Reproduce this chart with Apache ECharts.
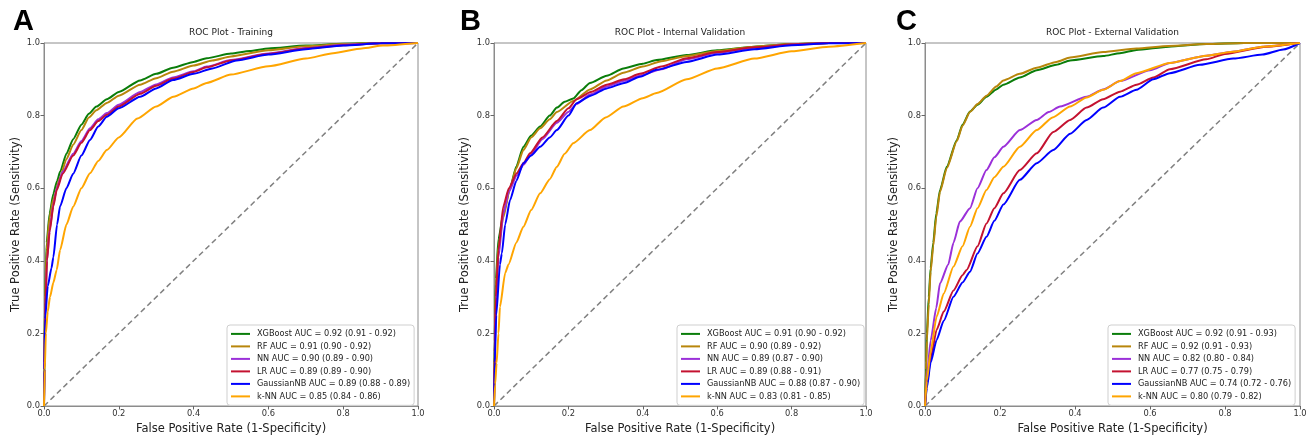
<!DOCTYPE html>
<html>
<head>
<meta charset="utf-8">
<script src="https://cdn.jsdelivr.net/npm/echarts@6/dist/echarts.min.js"></script>
<style>html,body{margin:0;padding:0;background:#fff;}#c{width:1314px;height:440px;}</style>
</head>
<body>
<div id="c"></div>
<script>
// ---- tick labels ----
const TICKS = [0.0, 0.2, 0.4, 0.6, 0.8, 1.0];

// ---- panel titles / letters ----
const PANEL_LETTERS = ['A', 'B', 'C'];
const PANEL_TITLES = ['ROC Plot - Training', 'ROC Plot - Internal Validation', 'ROC Plot - External Validation'];

// ---- model names ----
const MODELS = ['XGBoost', 'RF', 'NN', 'LR', 'GaussianNB', 'k-NN'];

// ---- AUC legend text per panel ----
const AUC_A = ['0.92 (0.91 - 0.92)', '0.91 (0.90 - 0.92)', '0.90 (0.89 - 0.90)', '0.89 (0.89 - 0.90)', '0.89 (0.88 - 0.89)', '0.85 (0.84 - 0.86)'];
const AUC_B = ['0.91 (0.90 - 0.92)', '0.90 (0.89 - 0.92)', '0.89 (0.87 - 0.90)', '0.89 (0.88 - 0.91)', '0.88 (0.87 - 0.90)', '0.83 (0.81 - 0.85)'];
const AUC_C = ['0.92 (0.91 - 0.93)', '0.92 (0.91 - 0.93)', '0.82 (0.80 - 0.84)', '0.77 (0.75 - 0.79)', '0.74 (0.72 - 0.76)', '0.80 (0.79 - 0.82)'];

// ---- ROC curves, [FPR, TPR] ----
// Panel A : Training
const XGB_A = [[0,0],[0.001,0.12],[0.003,0.3],[0.007,0.45],[0.015,0.53],[0.025,0.585],[0.035,0.62],[0.043,0.645],[0.06,0.695],[0.078,0.735],[0.1,0.775],[0.12,0.805],[0.14,0.825],[0.168,0.845],[0.2,0.865],[0.257,0.897],[0.3,0.915],[0.345,0.932],[0.4,0.948],[0.435,0.958],[0.5,0.971],[0.55,0.978],[0.6,0.985],[0.7,0.993],[0.8,0.998],[0.9,1],[1,1]];
const RF_A = [[0,0],[0.001,0.12],[0.003,0.28],[0.007,0.43],[0.015,0.52],[0.025,0.57],[0.043,0.63],[0.06,0.68],[0.078,0.72],[0.1,0.76],[0.12,0.795],[0.14,0.815],[0.168,0.835],[0.2,0.855],[0.257,0.885],[0.3,0.903],[0.345,0.921],[0.4,0.938],[0.45,0.952],[0.5,0.963],[0.6,0.98],[0.7,0.991],[0.8,0.997],[0.9,1],[1,1]];
const NN_A = [[0,0],[0.001,0.1],[0.003,0.25],[0.008,0.4],[0.015,0.485],[0.025,0.555],[0.034,0.6],[0.05,0.645],[0.078,0.695],[0.1,0.73],[0.123,0.765],[0.145,0.79],[0.168,0.807],[0.2,0.83],[0.257,0.865],[0.3,0.886],[0.345,0.905],[0.4,0.922],[0.435,0.935],[0.5,0.953],[0.6,0.971],[0.7,0.986],[0.8,0.995],[0.9,0.999],[1,1]];
const LR_A = [[0,0],[0.001,0.1],[0.003,0.25],[0.008,0.4],[0.015,0.48],[0.025,0.55],[0.034,0.595],[0.05,0.64],[0.078,0.69],[0.1,0.725],[0.123,0.76],[0.145,0.785],[0.168,0.802],[0.2,0.825],[0.257,0.86],[0.3,0.882],[0.345,0.902],[0.4,0.92],[0.435,0.933],[0.5,0.952],[0.6,0.97],[0.7,0.985],[0.8,0.994],[0.9,0.999],[1,1]];
const GNB_A = [[0,0],[0.001,0.1],[0.003,0.24],[0.01,0.33],[0.02,0.38],[0.025,0.41],[0.035,0.5],[0.043,0.55],[0.06,0.6],[0.078,0.64],[0.1,0.69],[0.123,0.733],[0.145,0.77],[0.168,0.797],[0.2,0.82],[0.257,0.852],[0.3,0.875],[0.345,0.898],[0.4,0.915],[0.45,0.93],[0.515,0.952],[0.6,0.968],[0.7,0.983],[0.8,0.993],[0.9,0.999],[1,1]];
const KNN_A = [[0,0],[0.002,0.1],[0.005,0.2],[0.01,0.26],[0.016,0.3],[0.025,0.34],[0.034,0.375],[0.043,0.43],[0.06,0.5],[0.078,0.549],[0.1,0.6],[0.123,0.641],[0.145,0.675],[0.168,0.705],[0.2,0.74],[0.25,0.792],[0.3,0.825],[0.346,0.852],[0.4,0.875],[0.435,0.89],[0.5,0.913],[0.6,0.936],[0.7,0.957],[0.773,0.972],[0.85,0.985],[0.906,0.993],[1,1]];

// Panel B : Internal Validation
const XGB_B = [[0,0],[0.002,0.2],[0.005,0.35],[0.012,0.46],[0.025,0.53],[0.043,0.6],[0.06,0.66],[0.079,0.714],[0.1,0.745],[0.124,0.77],[0.15,0.8],[0.169,0.822],[0.19,0.838],[0.213,0.847],[0.235,0.87],[0.258,0.89],[0.303,0.91],[0.348,0.93],[0.4,0.943],[0.437,0.953],[0.518,0.967],[0.6,0.98],[0.7,0.99],[0.8,0.997],[0.9,1],[1,1]];
const RF_B = [[0,0],[0.002,0.18],[0.005,0.33],[0.012,0.44],[0.025,0.52],[0.043,0.6],[0.06,0.655],[0.079,0.705],[0.1,0.74],[0.124,0.765],[0.15,0.79],[0.169,0.81],[0.213,0.84],[0.258,0.872],[0.303,0.897],[0.348,0.918],[0.4,0.935],[0.45,0.95],[0.518,0.964],[0.6,0.978],[0.7,0.99],[0.8,0.997],[0.9,1],[1,1]];
const NN_B = [[0,0],[0.002,0.14],[0.005,0.28],[0.012,0.41],[0.025,0.53],[0.04,0.59],[0.061,0.635],[0.08,0.665],[0.097,0.69],[0.13,0.735],[0.169,0.78],[0.2,0.81],[0.222,0.832],[0.258,0.858],[0.303,0.88],[0.35,0.896],[0.392,0.91],[0.45,0.928],[0.518,0.955],[0.6,0.973],[0.7,0.987],[0.8,0.996],[0.9,1],[1,1]];
const LR_B = [[0,0],[0.002,0.15],[0.005,0.3],[0.012,0.43],[0.025,0.55],[0.04,0.6],[0.061,0.641],[0.08,0.67],[0.097,0.696],[0.13,0.74],[0.169,0.785],[0.2,0.82],[0.222,0.845],[0.26,0.865],[0.303,0.885],[0.35,0.9],[0.392,0.915],[0.45,0.935],[0.518,0.958],[0.6,0.975],[0.7,0.988],[0.8,0.996],[0.9,1],[1,1]];
const GNB_B = [[0,0],[0.002,0.12],[0.006,0.25],[0.016,0.39],[0.021,0.42],[0.03,0.5],[0.043,0.567],[0.06,0.62],[0.079,0.669],[0.1,0.69],[0.124,0.714],[0.15,0.74],[0.169,0.76],[0.2,0.8],[0.222,0.834],[0.26,0.855],[0.303,0.875],[0.35,0.89],[0.392,0.907],[0.437,0.926],[0.518,0.948],[0.6,0.968],[0.7,0.983],[0.8,0.994],[0.9,0.999],[1,1]];
const KNN_B = [[0,0],[0.003,0.06],[0.007,0.118],[0.012,0.2],[0.016,0.273],[0.03,0.366],[0.039,0.39],[0.06,0.45],[0.079,0.494],[0.1,0.54],[0.124,0.586],[0.15,0.625],[0.169,0.659],[0.19,0.695],[0.213,0.724],[0.258,0.76],[0.3,0.795],[0.348,0.825],[0.4,0.848],[0.437,0.862],[0.518,0.9],[0.6,0.93],[0.7,0.957],[0.8,0.977],[0.9,0.99],[1,1]];

// Panel C : External Validation
const XGB_C = [[0,0],[0.003,0.12],[0.005,0.2],[0.01,0.3],[0.015,0.38],[0.022,0.45],[0.03,0.53],[0.04,0.595],[0.058,0.659],[0.085,0.733],[0.1,0.775],[0.12,0.811],[0.14,0.83],[0.164,0.852],[0.19,0.872],[0.209,0.885],[0.253,0.905],[0.298,0.925],[0.35,0.94],[0.387,0.952],[0.475,0.964],[0.52,0.972],[0.564,0.981],[0.65,0.99],[0.75,0.997],[0.85,1],[1,1]];
const RF_C = [[0,0],[0.003,0.1],[0.005,0.18],[0.01,0.28],[0.015,0.37],[0.022,0.44],[0.03,0.52],[0.04,0.59],[0.058,0.655],[0.085,0.73],[0.1,0.772],[0.12,0.81],[0.14,0.832],[0.164,0.855],[0.19,0.88],[0.209,0.897],[0.253,0.915],[0.298,0.932],[0.35,0.948],[0.387,0.96],[0.475,0.975],[0.564,0.985],[0.65,0.992],[0.75,0.997],[0.85,1],[1,1]];
const NN_C = [[0,0],[0.005,0.08],[0.015,0.18],[0.03,0.27],[0.04,0.338],[0.062,0.39],[0.076,0.45],[0.093,0.508],[0.12,0.545],[0.14,0.6],[0.164,0.65],[0.185,0.685],[0.209,0.714],[0.253,0.76],[0.298,0.788],[0.33,0.81],[0.36,0.825],[0.431,0.852],[0.475,0.872],[0.52,0.895],[0.6,0.925],[0.653,0.945],[0.75,0.965],[0.82,0.976],[0.9,0.99],[1,1]];
const LR_C = [[0,0],[0.005,0.06],[0.015,0.13],[0.031,0.21],[0.05,0.26],[0.076,0.318],[0.1,0.36],[0.111,0.375],[0.14,0.44],[0.164,0.503],[0.185,0.545],[0.209,0.586],[0.253,0.65],[0.298,0.696],[0.342,0.755],[0.387,0.788],[0.431,0.822],[0.475,0.845],[0.52,0.866],[0.564,0.885],[0.609,0.905],[0.653,0.928],[0.75,0.955],[0.8,0.97],[0.91,0.99],[1,1]];
const GNB_C = [[0,0],[0.005,0.05],[0.015,0.12],[0.031,0.182],[0.05,0.235],[0.076,0.301],[0.1,0.34],[0.12,0.37],[0.14,0.42],[0.164,0.466],[0.185,0.51],[0.209,0.555],[0.253,0.623],[0.298,0.669],[0.342,0.705],[0.387,0.75],[0.431,0.788],[0.475,0.822],[0.52,0.852],[0.564,0.871],[0.609,0.9],[0.653,0.917],[0.733,0.94],[0.822,0.957],[0.9,0.968],[0.955,0.982],[1,1]];
const KNN_C = [[0,0],[0.005,0.07],[0.015,0.15],[0.031,0.246],[0.05,0.31],[0.076,0.384],[0.1,0.44],[0.12,0.494],[0.14,0.545],[0.164,0.595],[0.185,0.63],[0.209,0.659],[0.253,0.714],[0.298,0.76],[0.34,0.795],[0.387,0.825],[0.431,0.85],[0.475,0.871],[0.52,0.895],[0.564,0.917],[0.653,0.945],[0.75,0.965],[0.82,0.976],[0.9,0.99],[1,1]];

const DIAG = [[0,0],[1,1]];

const CURVES = [
  [XGB_A, RF_A, NN_A, LR_A, GNB_A, KNN_A],
  [XGB_B, RF_B, NN_B, LR_B, GNB_B, KNN_B],
  [XGB_C, RF_C, NN_C, LR_C, GNB_C, KNN_C]
];
const AUCS = [AUC_A, AUC_B, AUC_C];

// ---- styling / layout ----
const COLORS = ['#0a7d0a', '#b8860b', '#9b30d9', '#c41230', '#0000ff', '#ffa500'];
const GRIDS = [
  {left: 44, width: 374, top: 43, height: 363, yGap: 22, legendLeft: 227},
  {left: 494, width: 372, top: 43, height: 363, yGap: 23, legendLeft: 677},
  {left: 925, width: 375, top: 43, height: 363, yGap: 25, legendLeft: 1108}
];
const LETTER_X = [13, 460, 896];
const FONT = 'DejaVu Sans';

const option = {
  animation: false,
  backgroundColor: '#ffffff',
  title: [], grid: [], xAxis: [], yAxis: [], legend: [], series: []
};

GRIDS.forEach((g, i) => {
  option.grid.push({left: g.left, width: g.width, top: g.top, height: g.height,
    show: true, borderColor: '#8c8c8c', borderWidth: 1, backgroundColor: '#fff'});
  option.title.push({text: PANEL_TITLES[i], left: g.left + g.width / 2, top: 28, textAlign: 'center', padding: 0,
    textStyle: {fontFamily: FONT, fontSize: 9, fontWeight: 'normal', color: '#222'}});
  option.title.push({text: PANEL_LETTERS[i], left: LETTER_X[i], top: 7, padding: 0,
    textStyle: {fontFamily: 'Liberation Sans', fontSize: 29, fontWeight: 'bold', color: '#000'}});
  const axisCommon = {
    type: 'value', min: 0, max: 1, interval: 0.2, gridIndex: i,
    axisLine: {show: true, lineStyle: {color: '#8c8c8c', width: 1}},
    axisTick: {show: true, length: 3.5, lineStyle: {color: '#666'}},
    axisLabel: {fontFamily: FONT, fontSize: 8.3, color: '#333', margin: 4, formatter: v => v.toFixed(1)},
    splitLine: {show: false},
    nameLocation: 'middle',
    nameTextStyle: {fontFamily: FONT, fontSize: 11.5, color: '#222'}
  };
  option.xAxis.push(Object.assign({}, axisCommon, {name: 'False Positive Rate (1-Specificity)', nameGap: 16}));
  option.yAxis.push(Object.assign({}, axisCommon, {name: 'True Positive Rate (Sensitivity)', nameGap: g.yGap}));

  const names = MODELS.map((m, k) => m + ' AUC = ' + AUCS[i][k]);
  option.legend.push({
    data: names, orient: 'vertical', left: g.legendLeft, top: 325,
    backgroundColor: '#fff', borderColor: '#cfcfcf', borderWidth: 1, borderRadius: 3,
    padding: [4, 4, 4, 4], itemGap: 2.7, itemWidth: 19, itemHeight: 2, icon: 'rect',
    selectedMode: false,
    textStyle: {fontFamily: FONT, fontSize: 8.2, color: '#222', lineHeight: 9.8, padding: [0, 0, 0, 2]}
  });
  option.series.push({
    type: 'line', xAxisIndex: i, yAxisIndex: i, data: DIAG, showSymbol: false, silent: true,
    lineStyle: {color: '#808080', width: 1.5, type: [5.5, 3.5]}, z: 1
  });
  CURVES[i].forEach((d, k) => {
    option.series.push({
      name: names[k], type: 'line', xAxisIndex: i, yAxisIndex: i, data: d,
      showSymbol: false, smooth: 0.2, smoothMonotone: 'x', color: COLORS[k],
      lineStyle: {color: COLORS[k], width: 2}, z: 2 + k
    });
  });
});

const chart = echarts.init(document.getElementById('c'));
chart.setOption(option);
</script>
</body>
</html>
